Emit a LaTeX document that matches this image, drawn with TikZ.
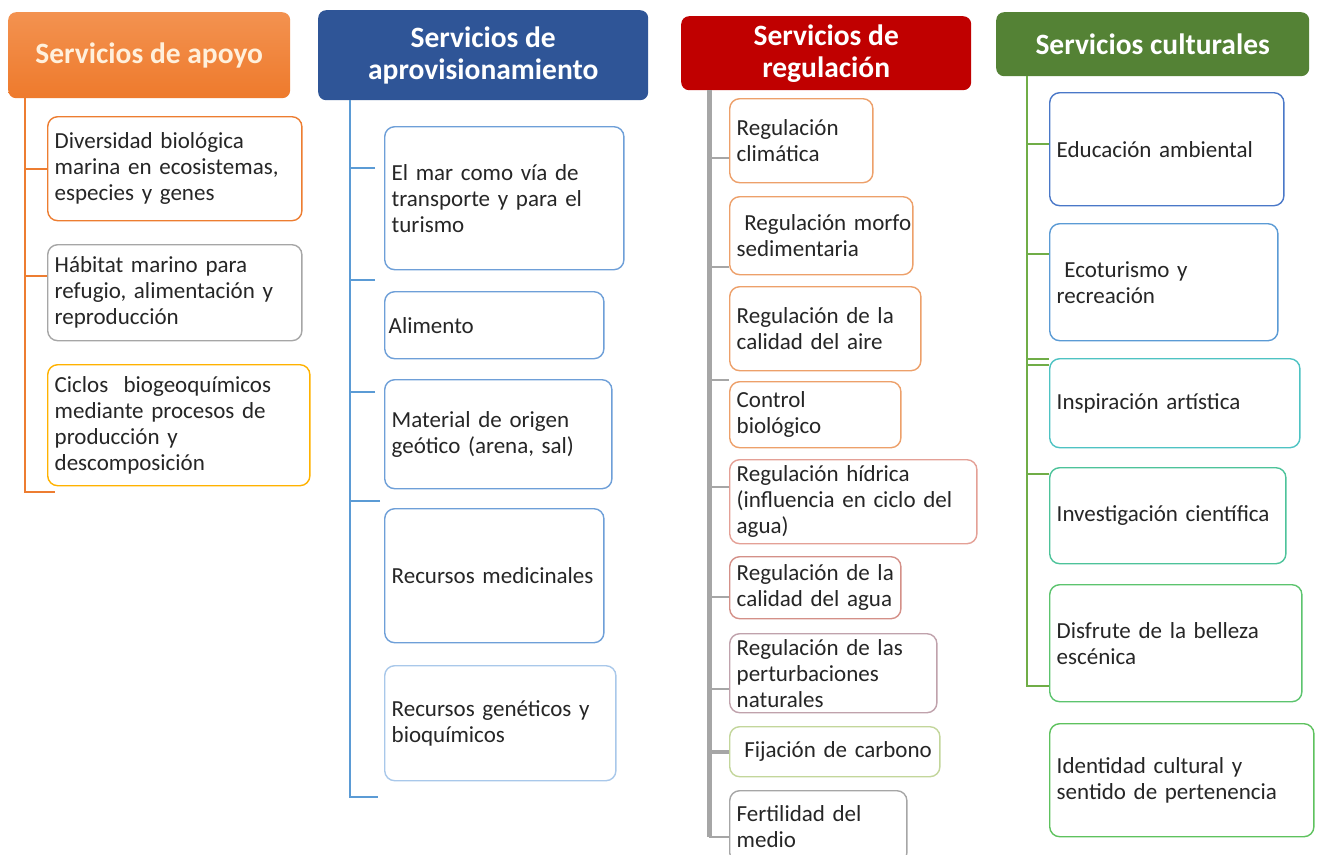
\documentclass[tikz,border=0pt]{standalone}
\usepackage{fontspec}
\setmainfont{Carlito}
\definecolor{txt}{HTML}{262626}
\definecolor{orhead}{HTML}{EE7A2C}
\definecolor{orheadtop}{HTML}{F39250}
\definecolor{orline}{HTML}{ED7D31}
\definecolor{bluehead}{HTML}{2F5597}
\definecolor{blueline}{HTML}{5B9BD5}
\definecolor{bluebox}{HTML}{6E9FD8}
\definecolor{blueboxl}{HTML}{A9C8EA}
\definecolor{redhead}{HTML}{C00000}
\definecolor{grayline}{HTML}{A6A6A6}
\definecolor{greenhead}{HTML}{548235}
\definecolor{greenline}{HTML}{70AD47}
\definecolor{cream}{HTML}{FFF0DC}
\definecolor{regor}{HTML}{EDA06A}
\definecolor{regsal}{HTML}{E4A096}
\definecolor{regred}{HTML}{D49088}
\definecolor{regmauve}{HTML}{C0A2AC}
\definecolor{regolive}{HTML}{C3D69B}
\definecolor{cblue}{HTML}{4A78C8}
\definecolor{cteal}{HTML}{4EC3C3}
\definecolor{cgteal}{HTML}{4DC39A}
\definecolor{cgreen}{HTML}{5CC46E}
\definecolor{cgreen2}{HTML}{5EC25E}
\tikzset{
  head/.style={rounded corners=8pt, draw=none, anchor=north west, inner sep=0pt,
     align=center, text=white, font=\fontsize{29.5}{32}\selectfont\bfseries},
  box/.style={rounded corners=10pt, draw=#1, line width=1.4pt, fill=white,
     anchor=north west, inner ysep=0pt, inner xsep=7pt, align=left, text=txt,
     font=\fontsize{23}{26}\selectfont},
  trunk/.style={line width=2.2pt},
}
\newcommand{\mybox}[7]{% name, color, x, y, w, h, text
  \node[box=#2, minimum height=#6pt, text width=#5pt-14pt-2.8pt] (#1) at (#3,#4) {#7};}
\begin{document}
\begin{tikzpicture}[x=1pt,y=-1pt]
\useasboundingbox (0,0) rectangle (1317,854);
\fill[white] (0,0) rectangle (1317,854);

% ---------- headers ----------
\node[head, minimum width=282pt, minimum height=86pt, top color=orheadtop, bottom color=orhead, text=cream] (h1) at (8,12) {Servicios de apoyo};
\node[head, minimum width=330pt, minimum height=90pt, fill=bluehead] (h2) at (318,10) {Servicios de\\aprovisionamiento};
\node[head, minimum width=290pt, minimum height=74pt, fill=redhead] (h3) at (681,16) {Servicios de\\regulación};
\node[head, minimum width=313pt, minimum height=64pt, fill=greenhead] (h4) at (996,12) {Servicios culturales};

% ---------- column 1 ----------
\mybox{b11}{orline}{47}{116}{257}{104}{Diversidad biológica\\marina en ecosistemas,\\especies y genes}
\mybox{b12}{grayline}{47}{244}{257}{96}{Hábitat marino para\\refugio, alimentación y\\reproducción}
\mybox{b13}{orange!60!yellow}{47}{364}{265}{121}{Ciclos~ biogeoquímicos\\mediante procesos de\\producción y\\descomposición}
\coordinate (t1) at (25,98);
\coordinate (t1e) at (55,492);
\draw[orline, trunk] (t1) |- (t1e);
\draw[orline, trunk] (b11.west) -- (b11.west -| t1);
\draw[orline, trunk] ([yshift=17pt]b12.west) -- ([yshift=17pt]b12.west -| t1);

% ---------- column 2 ----------
\mybox{b21}{bluebox}{384}{126}{242}{143}{El mar como vía de\\transporte y para el\\turismo}
\mybox{b22}{bluebox}{384}{291}{222}{67}{\hspace{-3pt}Alimento}
\mybox{b23}{bluebox}{384}{379}{230}{109}{Material de origen\\geótico (arena, sal)}
\mybox{b24}{bluebox}{384}{508}{222}{134}{Recursos medicinales}
\mybox{b25}{blueboxl}{384}{665}{234}{115}{Recursos genéticos y\\bioquímicos}
\coordinate (t2) at (350,100);
\coordinate (t2e) at (378,797);
\coordinate (k21) at (375,168);
\coordinate (k22) at (375,280);
\coordinate (k23) at (375,392);
\coordinate (k24) at (380,501);
\draw[blueline, trunk] (t2) |- (t2e);
\foreach \k in {k21,k22,k23,k24} \draw[blueline, trunk] (\k) -- (\k -| t2);

% ---------- column 3 ----------
\mybox{b31}{regor}{729}{98}{146}{84}{Regulación\\climática}
\mybox{b32}{regor}{729}{196}{186}{78}{\mbox{\ Regulación morfo}\\sedimentaria}
\mybox{b33}{regor}{729}{286}{194}{84}{Regulación de la\\calidad del aire}
\mybox{b34}{regor}{729}{381}{174}{66}{Control\\biológico}
\mybox{b35}{regsal}{729}{459}{250}{84}{Regulación hídrica\\(influencia en ciclo del\\agua)}
\mybox{b36}{regred}{729}{556}{174}{62}{Regulación de la\\calidad del agua}
\mybox{b37}{regmauve}{729}{633}{210}{79}{Regulación de las\\perturbaciones\\naturales}
\mybox{b38}{regolive}{729}{726}{213}{50}{\ Fijación de carbono}
\mybox{b39}{grayline}{729}{790}{180}{72}{Fertilidad del\\medio}
\coordinate (t3) at (709,90);
\coordinate (t3e) at (729,837);
\draw[grayline, line width=5pt] (t3) -- (t3 |- t3e);
\draw[grayline, line width=2pt] (t3 |- t3e) -- (t3e);
\foreach \b/\d in {b31/60, b32/71, b34/-1, b35/28, b36/41, b37/56}
  \draw[grayline, line width=1.6pt] ([yshift=-\d pt]\b.north west) -- ([yshift=-\d pt]\b.north west -| t3);
\draw[grayline, line width=4pt] (b38.west) -- (b38.west -| t3);

% ---------- column 4 ----------
\mybox{b41}{cblue}{1049}{92}{237}{113}{Educación ambiental}
\mybox{b42}{blueline}{1049}{223}{231}{117}{\ Ecoturismo y\\recreación}
\mybox{b43}{cteal}{1049}{358}{253}{89}{Inspiración artística}
\mybox{b44}{cgteal}{1049}{467}{239}{96}{Investigación científica}
\mybox{b45}{cgreen}{1049}{584}{255}{117}{Disfrute de la belleza\\escénica}
\mybox{b46}{cgreen2}{1049}{723}{267}{113}{Identidad cultural y\\sentido de pertenencia}
\coordinate (t4) at (1027,76);
\coordinate (t4e) at (1049,686);
\draw[greenline, trunk] (t4) |- (t4e);
\foreach \b/\d in {b41/52, b42/31, b44/7}
  \draw[greenline, trunk] ([yshift=-\d pt]\b.north west) -- ([yshift=-\d pt]\b.north west -| t4);
\draw[greenline, line width=1.6pt] ([yshift=-1pt]b43.north west) -- ([yshift=-1pt]b43.north west -| t4);
\draw[greenline, line width=1.6pt] ([yshift=-7pt]b43.north west) -- ([yshift=-7pt]b43.north west -| t4);
\end{tikzpicture}
\end{document}
